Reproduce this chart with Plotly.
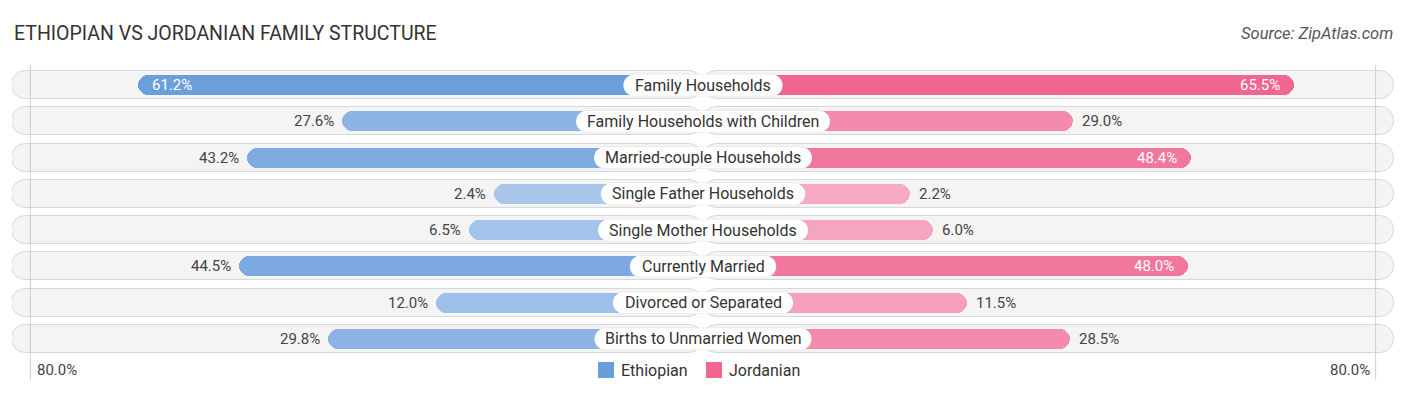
import plotly.graph_objects as go

categories = [
    "Family Households",
    "Family Households with Children",
    "Married-couple Households",
    "Single Father Households",
    "Single Mother Households",
    "Currently Married",
    "Divorced or Separated",
    "Births to Unmarried Women",
]
ethiopian = [61.2, 27.6, 43.2, 2.4, 6.5, 44.5, 12.0, 29.8]
jordanian = [65.5, 29.0, 48.4, 2.2, 6.0, 48.0, 11.5, 28.5]
series_names = ["Ethiopian", "Jordanian"]
axis_label = "80.0%"

# ---- layout constants (style) ----
W, H = 1406, 395
D = 8               # page body margin compensation
PW, PH = 1382, 290
ML, MT = 12 - D, 67 - D
MR, MB = W - ML - PW, H - MT - PH
OFF = 32.0          # label gap offset (in % units)
R = 113.93          # half range of x axis
GRID = 110.9
n = len(categories)
ys = list(range(n))

BLUE_S, BLUE_L = (103, 156, 219), (172, 201, 236)
PINK_S, PINK_L = (240, 102, 144), (247, 173, 197)
vmax = max(max(ethiopian), max(jordanian))


def mix(c_s, c_l, v):
    t = min(1.0, v / vmax)
    t = t ** 0.9
    return "rgb(%d,%d,%d)" % tuple(round(l + (s - l) * t) for s, l in zip(c_s, c_l))


fig = go.Figure()

# background pills (two halves, each rounded at outer end)
for sgn in (-1, 1):
    fig.add_trace(go.Bar(
        y=ys, x=[sgn * R] * n, base=0, orientation="h", width=0.772,
        marker=dict(color="#f4f4f4", line=dict(color="rgba(0,0,0,0.13)", width=1), cornerradius=14),
        hoverinfo="skip", showlegend=False,
    ))

# data bars
fig.add_trace(go.Bar(
    y=ys, x=[-(v + OFF) for v in ethiopian], base=0, orientation="h", width=0.552,
    marker=dict(color=[mix(BLUE_S, BLUE_L, v) for v in ethiopian], cornerradius=10,
                line=dict(width=0)),
    name=series_names[0], showlegend=False, hoverinfo="skip",
))
fig.add_trace(go.Bar(
    y=ys, x=[(v + OFF) for v in jordanian], base=0, orientation="h", width=0.552,
    marker=dict(color=[mix(PINK_S, PINK_L, v) for v in jordanian], cornerradius=10,
                line=dict(width=0)),
    name=series_names[1], showlegend=False, hoverinfo="skip",
))

# Roboto advance widths (units per 2048)
RW = {' ': 507, '-': 552, 'A': 1336, 'B': 1275, 'C': 1333, 'D': 1343, 'F': 1132, 'H': 1460,
      'M': 1788, 'S': 1232, 'W': 1817, 'a': 1088, 'b': 1122, 'c': 1046, 'd': 1126, 'e': 1058,
      'f': 693, 'g': 1122, 'h': 1101, 'i': 486, 'l': 486, 'm': 1751, 'n': 1103, 'o': 1140,
      'p': 1122, 'r': 677, 's': 1031, 't': 654, 'u': 1100, 'v': 969, 'w': 1502, 'y': 946}
LFS = 16


def text_w(s, fs):
    return sum(RW.get(ch, 1100) for ch in s) * fs / 2048


shapes = []
annotations = []
k = 0.5523
for i, cat in enumerate(categories):
    w = text_w(cat, LFS) / 2 + 13
    h = 11
    r = 11
    path = (f"M{-w + r},{-h} L{w - r},{-h} C{w - r + r * k},{-h} {w},{-h + r - r * k} {w},0 "
            f"C{w},{h - r + r * k} {w - r + r * k},{h} {w - r},{h} L{-w + r},{h} "
            f"C{-w + r - r * k},{h} {-w},{h - r + r * k} {-w},0 "
            f"C{-w},{-h + r - r * k} {-w + r - r * k},{-h} {-w + r},{-h} Z")
    shapes.append(dict(type="path", xref="x", yref="y", xsizemode="pixel", ysizemode="pixel",
                       xanchor=0, yanchor=i, path=path, fillcolor="white",
                       line=dict(color="rgba(0,0,0,0.06)", width=1), layer="above"))
    annotations.append(dict(x=0, y=i, xref="x", yref="y", text=cat, showarrow=False,
                            font=dict(family="Roboto", size=LFS, color="#333333"),
                            xanchor="center", yanchor="middle"))

THR = 46
for i, v in enumerate(ethiopian):
    inside = v >= THR
    annotations.append(dict(
        x=-(v + OFF), y=i, xref="x", yref="y", text=f"{v:.1f}%", showarrow=False,
        xanchor="left" if inside else "right", xshift=12 if inside else -6, yanchor="middle",
        font=dict(family="Roboto", size=15, color="white" if inside else "#444444")))
for i, v in enumerate(jordanian):
    inside = v >= THR
    annotations.append(dict(
        x=v + OFF, y=i, xref="x", yref="y", text=f"{v:.1f}%", showarrow=False,
        xanchor="right" if inside else "left", xshift=-12 if inside else 7, yanchor="middle",
        font=dict(family="Roboto", size=15, color="white" if inside else "#444444")))


def px(xp):
    return (xp - D - ML) / PW


def py(yp):
    return (MT + PH - (yp - D)) / PH


# gridlines at 80%
for sgn in (-1, 1):
    shapes.append(dict(type="line", xref="x", yref="paper", x0=sgn * GRID, x1=sgn * GRID,
                       y0=py(380), y1=py(65), line=dict(color="#cfcfcf", width=1), layer="above"))

# axis end labels
annotations.append(dict(x=px(35), y=py(370), xref="paper", yref="paper", text=axis_label,
                        showarrow=False, xanchor="left", yanchor="middle",
                        font=dict(family="Roboto", size=15, color="#444444")))
annotations.append(dict(x=px(1372), y=py(370), xref="paper", yref="paper", text=axis_label,
                        showarrow=False, xanchor="right", yanchor="middle",
                        font=dict(family="Roboto", size=15, color="#444444")))

# legend
leg = [(598, series_names[0], "rgb(106,158,219)"), (706, series_names[1], "rgb(240,102,143)")]
for x0, name, col in leg:
    shapes.append(dict(type="rect", xref="paper", yref="paper", x0=px(x0), x1=px(x0 + 16),
                       y0=py(378), y1=py(362), fillcolor=col, line=dict(width=0)))
    annotations.append(dict(x=px(x0 + 21), y=py(370), xref="paper", yref="paper", text=name,
                            showarrow=False, xanchor="left", yanchor="middle",
                            font=dict(family="Roboto", size=16, color="#333333")))

# title & source
annotations.append(dict(x=px(12), y=py(33), xref="paper", yref="paper",
                        text="ETHIOPIAN VS JORDANIAN FAMILY STRUCTURE", showarrow=False,
                        xanchor="left", yanchor="middle",
                        font=dict(family="Roboto", size=19.5, color="#333333")))
annotations.append(dict(x=px(1395), y=py(33), xref="paper", yref="paper",
                        text="<i>Source: ZipAtlas.com</i>", showarrow=False,
                        xanchor="right", yanchor="middle",
                        font=dict(family="Roboto", size=16.5, color="#555555")))

fig.update_layout(
    width=W, height=H, margin=dict(l=ML, r=MR, t=MT, b=MB),
    paper_bgcolor="white", plot_bgcolor="white",
    barmode="overlay", bargap=0,
    xaxis=dict(range=[-R, R], visible=False, fixedrange=True),
    yaxis=dict(range=[n - 0.5, -0.5], visible=False, fixedrange=True),
    shapes=shapes, annotations=annotations, showlegend=False,
)

fig.write_html("out.html")
